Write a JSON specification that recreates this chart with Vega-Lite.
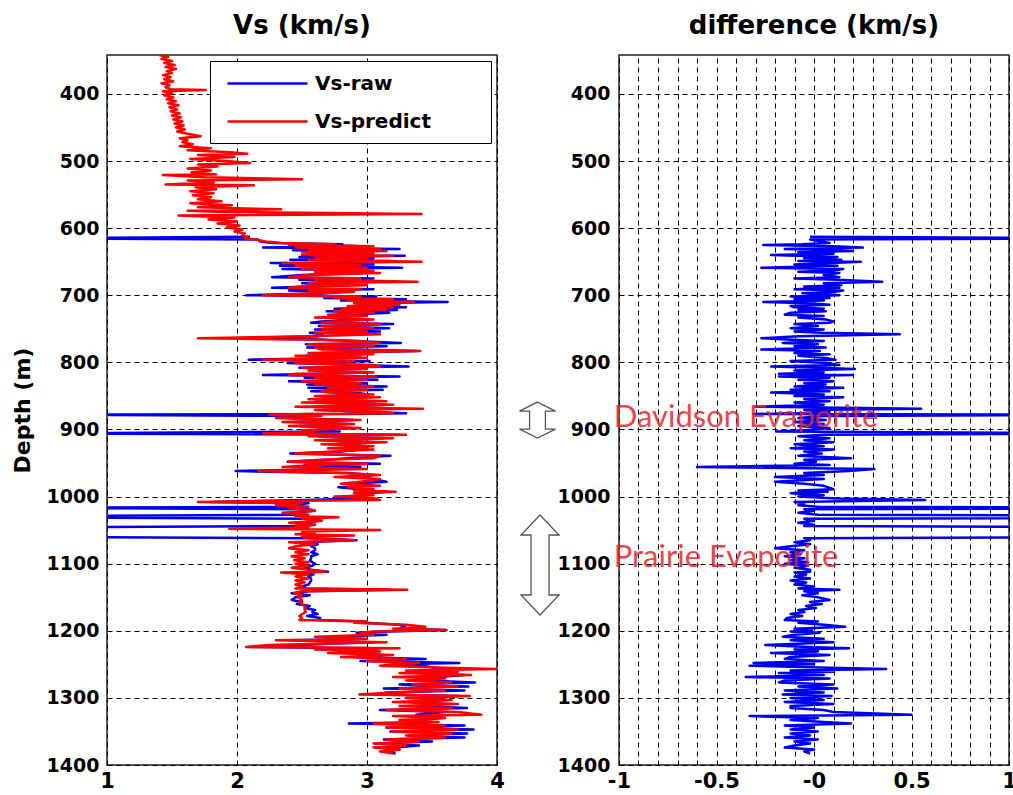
{
  "$schema": "https://vega.github.io/schema/vega-lite/v6.json",
  "background": "white",
  "padding": {"left": 10, "top": 12, "right": 0, "bottom": 0},
  "bounds": "flush",
  "spacing": 122,
  "resolve": {"legend": {"color": "independent"}, "scale": {"color": "independent"}},
  "config": {
    "view": {"stroke": "#222222", "strokeWidth": 1.5},
    "font": "DejaVu Sans",
    "title": {"font": "DejaVu Sans", "fontSize": 26, "fontWeight": "bold", "color": "black", "offset": 16},
    "axis": {
      "gridColor": "black", "gridDash": [5, 4], "gridOpacity": 1, "gridWidth": 1,
      "labelFont": "DejaVu Sans", "labelFontWeight": "bold", "labelColor": "black",
      "ticks": false, "tickSize": 0, "domain": false, "labelFlush": false, "labelOverlap": false,
      "titleFont": "DejaVu Sans", "titleFontWeight": "bold", "titleColor": "black"
    }
  },
  "datasets": {
    "well": [
      {"z":342,"p":1.40},{"z":345,"p":1.47},{"z":348,"p":1.42},{"z":351,"p":1.50},{"z":354,"p":1.44},{"z":357,"p":1.52},{"z":360,"p":1.45},{"z":363,"p":1.53},{"z":366,"p":1.46},{"z":369,"p":1.50},
      {"z":372,"p":1.43},{"z":375,"p":1.49},{"z":378,"p":1.44},{"z":381,"p":1.51},{"z":384,"p":1.42},{"z":387,"p":1.48},{"z":390,"p":1.45},{"z":393,"p":1.49},{"z":394,"p":1.76},{"z":396,"p":1.43},
      {"z":399,"p":1.50},{"z":402,"p":1.44},{"z":405,"p":1.51},{"z":408,"p":1.46},{"z":411,"p":1.53},{"z":414,"p":1.47},{"z":417,"p":1.55},{"z":420,"p":1.48},{"z":423,"p":1.54},{"z":426,"p":1.49},
      {"z":429,"p":1.56},{"z":432,"p":1.50},{"z":435,"p":1.57},{"z":438,"p":1.51},{"z":441,"p":1.58},{"z":444,"p":1.52},{"z":447,"p":1.59},{"z":450,"p":1.53},{"z":453,"p":1.60},{"z":456,"p":1.54},
      {"z":459,"p":1.61},{"z":463,"p":1.72},{"z":466,"p":1.56},{"z":469,"p":1.62},{"z":472,"p":1.58},{"z":475,"p":1.66},{"z":478,"p":1.56},{"z":481,"p":1.80},{"z":484,"p":1.62},{"z":487,"p":1.95},
      {"z":489,"p":2.08},{"z":491,"p":1.70},{"z":494,"p":1.98},{"z":497,"p":1.64},{"z":500,"p":1.92},{"z":503,"p":2.10},{"z":505,"p":1.70},{"z":508,"p":1.85},{"z":511,"p":1.62},{"z":514,"p":1.80},
      {"z":517,"p":1.65},{"z":520,"p":1.84},{"z":521,"p":1.43},{"z":524,"p":1.75},{"z":527,"p":2.50},{"z":529,"p":1.62},{"z":532,"p":1.82},{"z":535,"p":1.45},{"z":536,"p":2.13},{"z":539,"p":1.68},
      {"z":542,"p":1.84},{"z":545,"p":1.64},{"z":548,"p":1.82},{"z":551,"p":1.66},{"z":554,"p":1.80},{"z":557,"p":1.70},{"z":560,"p":1.88},{"z":563,"p":1.64},{"z":566,"p":1.96},{"z":569,"p":1.70},
      {"z":572,"p":2.34},{"z":574,"p":1.62},{"z":576,"p":1.90},{"z":579,"p":3.42},{"z":581,"p":1.55},{"z":584,"p":1.98},{"z":587,"p":1.78},{"z":590,"p":2.00},{"z":593,"p":1.85},{"z":596,"p":2.02},
      {"z":599,"p":1.92},{"z":602,"p":2.04},{"z":605,"p":1.98},{"z":608,"p":2.06},{"z":611,"p":2.04},
      {"z":613,"p":2.08,"r":2.10,"f":-0.02},{"z":615,"p":2.06,"r":0.40,"f":1.66},{"z":617,"p":2.14,"r":2.16,"f":-0.02},{"z":620,"p":2.22,"r":2.18,"f":0.04},{"z":622,"p":2.35,"r":2.27,"f":0.08},
      {"z":624,"p":2.75,"r":2.81,"f":-0.06},{"z":625,"p":2.40,"r":2.66,"f":-0.26},{"z":627,"p":3.05,"r":2.95,"f":0.10},{"z":629,"p":2.45,"r":2.20,"f":0.25},{"z":631,"p":3.10,"r":3.25,"f":-0.15},
      {"z":633,"p":2.55,"r":2.43,"f":0.12},{"z":634,"p":3.15,"r":2.95,"f":0.20},{"z":636,"p":2.50,"r":2.58,"f":-0.08},{"z":638,"p":3.05,"r":2.95,"f":0.10},{"z":640,"p":2.50,"r":2.72,"f":-0.22},
      {"z":641,"p":3.20,"r":3.29,"f":-0.09},{"z":643,"p":2.60,"r":2.48,"f":0.12},{"z":645,"p":3.00,"r":3.05,"f":-0.05},{"z":647,"p":2.55,"r":2.41,"f":0.14},{"z":649,"p":3.10,"r":3.18,"f":-0.08},
      {"z":650,"p":3.42,"r":3.18,"f":0.24},{"z":652,"p":2.35,"r":2.26,"f":0.09},{"z":654,"p":2.95,"r":3.05,"f":-0.10},{"z":656,"p":2.45,"r":2.33,"f":0.12},{"z":659,"p":3.00,"r":3.27,"f":-0.27},
      {"z":661,"p":2.50,"r":2.35,"f":0.15},{"z":663,"p":3.05,"r":2.95,"f":0.10},{"z":665,"p":2.60,"r":2.68,"f":-0.08},{"z":667,"p":3.10,"r":2.97,"f":0.13},{"z":670,"p":2.55,"r":2.50,"f":0.05},
      {"z":673,"p":2.40,"r":2.27,"f":0.13},{"z":675,"p":2.95,"r":3.05,"f":-0.10},{"z":677,"p":2.60,"r":2.48,"f":0.12},{"z":680,"p":3.39,"r":3.04,"f":0.35},{"z":682,"p":2.55,"r":2.50,"f":0.05},
      {"z":685,"p":3.00,"r":2.86,"f":0.14},{"z":687,"p":2.50,"r":2.55,"f":-0.05},{"z":689,"p":2.40,"r":2.27,"f":0.13},{"z":691,"p":2.95,"r":3.05,"f":-0.10},{"z":693,"p":2.55,"r":2.40,"f":0.15},
      {"z":695,"p":2.90,"r":2.80,"f":0.10},{"z":697,"p":2.60,"r":2.66,"f":-0.06},{"z":700,"p":2.20,"r":2.07,"f":0.13},{"z":702,"p":2.95,"r":3.07,"f":-0.12},{"z":704,"p":2.75,"r":2.67,"f":0.08},
      {"z":706,"p":3.20,"r":3.30,"f":-0.10},{"z":708,"p":2.85,"r":2.80,"f":0.05},{"z":710,"p":3.36,"r":3.62,"f":-0.26},{"z":712,"p":2.90,"r":2.92,"f":-0.02},{"z":714,"p":3.25,"r":3.17,"f":0.08},
      {"z":716,"p":2.85,"r":2.97,"f":-0.12},{"z":718,"p":3.20,"r":3.30,"f":-0.10},{"z":720,"p":2.80,"r":2.75,"f":0.05},{"z":722,"p":3.15,"r":3.23,"f":-0.08},{"z":724,"p":2.75,"r":2.69,"f":0.06},
      {"z":726,"p":3.05,"r":3.17,"f":-0.12},{"z":729,"p":2.70,"r":2.85,"f":-0.15},{"z":731,"p":3.00,"r":2.95,"f":0.05},{"z":733,"p":2.60,"r":2.68,"f":-0.08},{"z":736,"p":3.05,"r":2.99,"f":0.06},
      {"z":739,"p":2.75,"r":2.65,"f":0.10},{"z":741,"p":2.65,"r":2.57,"f":0.08},{"z":743,"p":3.10,"r":3.20,"f":-0.10},{"z":746,"p":2.65,"r":2.63,"f":0.02},{"z":749,"p":3.05,"r":3.17,"f":-0.12},
      {"z":751,"p":2.65,"r":2.60,"f":0.05},{"z":754,"p":3.00,"r":3.10,"f":-0.10},{"z":756,"p":2.60,"r":2.56,"f":0.04},{"z":758,"p":3.10,"r":2.66,"f":0.44},{"z":761,"p":2.55,"r":2.63,"f":-0.08},
      {"z":764,"p":1.70,"r":1.97,"f":-0.27},{"z":766,"p":2.50,"r":2.64,"f":-0.14},{"z":768,"p":2.95,"r":2.90,"f":0.05},{"z":771,"p":3.10,"r":3.26,"f":-0.16},{"z":773,"p":2.55,"r":2.53,"f":0.02},
      {"z":776,"p":3.05,"r":3.15,"f":-0.10},{"z":778,"p":2.60,"r":2.54,"f":0.06},{"z":781,"p":2.65,"r":2.92,"f":-0.27},{"z":783,"p":3.41,"r":3.38,"f":0.03},{"z":786,"p":2.55,"r":2.65,"f":-0.10},
      {"z":788,"p":3.05,"r":2.97,"f":0.08},{"z":790,"p":2.45,"r":2.53,"f":-0.08},{"z":793,"p":3.00,"r":2.95,"f":0.05},{"z":796,"p":2.20,"r":2.09,"f":0.11},{"z":798,"p":2.90,"r":3.02,"f":-0.12},
      {"z":801,"p":2.45,"r":2.39,"f":0.06},{"z":804,"p":3.05,"r":2.92,"f":0.13},{"z":806,"p":3.10,"r":3.32,"f":-0.22},{"z":808,"p":2.50,"r":2.48,"f":0.02},{"z":810,"p":3.00,"r":2.79,"f":0.21},
      {"z":812,"p":2.55,"r":2.65,"f":-0.10},{"z":815,"p":3.05,"r":3.00,"f":0.05},{"z":817,"p":2.45,"r":2.63,"f":-0.18},{"z":819,"p":2.40,"r":2.20,"f":0.20},{"z":821,"p":3.07,"r":3.25,"f":-0.18},
      {"z":823,"p":2.60,"r":2.52,"f":0.08},{"z":826,"p":3.00,"r":3.08,"f":-0.08},{"z":828,"p":2.50,"r":2.40,"f":0.10},{"z":831,"p":2.95,"r":3.00,"f":-0.05},{"z":833,"p":2.60,"r":2.54,"f":0.06},
      {"z":836,"p":3.05,"r":3.15,"f":-0.10},{"z":838,"p":2.70,"r":2.55,"f":0.15},{"z":841,"p":3.00,"r":3.12,"f":-0.12},{"z":843,"p":2.65,"r":2.57,"f":0.08},{"z":845,"p":2.70,"r":2.92,"f":-0.22},
      {"z":848,"p":3.05,"r":3.00,"f":0.05},{"z":850,"p":2.60,"r":2.70,"f":-0.10},{"z":852,"p":3.10,"r":2.95,"f":0.15},{"z":855,"p":2.55,"r":2.60,"f":-0.05},{"z":858,"p":3.15,"r":3.07,"f":0.08},
      {"z":860,"p":2.50,"r":2.60,"f":-0.10},{"z":863,"p":3.20,"r":3.15,"f":0.05},{"z":866,"p":2.45,"r":2.75,"f":-0.30},{"z":869,"p":3.43,"r":2.88,"f":0.55},{"z":871,"p":2.60,"r":2.65,"f":-0.05},
      {"z":874,"p":3.10,"r":3.02,"f":0.08},{"z":876,"p":3.20,"r":3.30,"f":-0.10},{"z":877,"p":2.55,"r":2.86,"f":-0.31},{"z":878,"p":2.25,"r":0.40,"f":1.85},{"z":880,"p":2.65,"r":2.60,"f":0.05},
      {"z":883,"p":2.30,"r":2.38,"f":-0.08},{"z":886,"p":2.95,"r":2.89,"f":0.06},{"z":889,"p":2.35,"r":2.45,"f":-0.10},{"z":892,"p":2.90,"r":2.85,"f":0.05},{"z":895,"p":2.40,"r":2.48,"f":-0.08},
      {"z":898,"p":2.95,"r":2.87,"f":0.08},{"z":901,"p":2.50,"r":2.55,"f":-0.05},{"z":903,"p":2.60,"r":2.79,"f":-0.19},{"z":906,"p":2.20,"r":0.40,"f":1.80},{"z":908,"p":3.30,"r":3.25,"f":0.05},
      {"z":910,"p":2.55,"r":2.63,"f":-0.08},{"z":913,"p":3.20,"r":3.12,"f":0.08},{"z":916,"p":2.60,"r":2.65,"f":-0.05},{"z":919,"p":3.15,"r":3.05,"f":0.10},{"z":922,"p":2.65,"r":2.75,"f":-0.10},
      {"z":925,"p":3.05,"r":3.00,"f":0.05},{"z":928,"p":2.70,"r":2.82,"f":-0.12},{"z":930,"p":3.05,"r":2.95,"f":0.10},{"z":933,"p":2.75,"r":2.80,"f":-0.05},{"z":936,"p":2.45,"r":2.41,"f":0.04},
      {"z":939,"p":3.10,"r":3.18,"f":-0.08},{"z":943,"p":3.05,"r":2.86,"f":0.19},{"z":945,"p":2.65,"r":2.70,"f":-0.05},{"z":948,"p":2.40,"r":2.39,"f":0.01},{"z":951,"p":3.00,"r":3.10,"f":-0.10},
      {"z":953,"p":2.60,"r":2.52,"f":0.08},{"z":956,"p":2.35,"r":2.95,"f":-0.60},{"z":959,"p":3.00,"r":2.69,"f":0.31},{"z":962,"p":2.17,"r":1.99,"f":0.18},{"z":965,"p":2.80,"r":2.85,"f":-0.05},
      {"z":968,"p":3.10,"r":3.05,"f":0.05},{"z":971,"p":2.75,"r":2.95,"f":-0.20},{"z":974,"p":3.10,"r":3.05,"f":0.05},{"z":978,"p":2.95,"r":3.15,"f":-0.20},{"z":981,"p":2.80,"r":2.85,"f":-0.05},
      {"z":984,"p":3.10,"r":3.05,"f":0.05},{"z":986,"p":2.85,"r":2.78,"f":0.07},{"z":989,"p":3.05,"r":2.95,"f":0.10},{"z":991,"p":2.90,"r":2.98,"f":-0.08},{"z":993,"p":3.22,"r":3.15,"f":0.07},
      {"z":995,"p":2.90,"r":3.02,"f":-0.12},{"z":998,"p":3.05,"r":3.00,"f":0.05},{"z":1000,"p":2.75,"r":2.83,"f":-0.08},{"z":1003,"p":3.07,"r":2.95,"f":0.12},{"z":1005,"p":3.10,"r":2.53,"f":0.57},
      {"z":1008,"p":1.70,"r":1.80,"f":-0.10},{"z":1010,"p":2.50,"r":2.55,"f":-0.05},{"z":1013,"p":2.30,"r":2.38,"f":-0.08},{"z":1015,"p":2.55,"r":2.53,"f":0.02},{"z":1017,"p":2.40,"r":0.40,"f":2.00},
      {"z":1019,"p":2.50,"r":2.55,"f":-0.05},{"z":1021,"p":2.60,"r":2.60,"f":0.00},{"z":1024,"p":2.35,"r":2.43,"f":-0.08},{"z":1027,"p":2.55,"r":2.53,"f":0.02},{"z":1029,"p":2.45,"r":0.40,"f":2.05},
      {"z":1031,"p":2.78,"r":0.40,"f":2.38},{"z":1033,"p":2.50,"r":2.55,"f":-0.05},{"z":1036,"p":2.65,"r":2.65,"f":0.00},{"z":1039,"p":2.40,"r":2.48,"f":-0.08},{"z":1042,"p":2.60,"r":2.60,"f":0.00},
      {"z":1044,"p":2.45,"r":2.50,"f":-0.05},{"z":1046,"p":2.55,"r":0.40,"f":2.15},{"z":1048,"p":1.94,"r":0.40,"f":1.54},{"z":1050,"p":3.10,"r":0.40,"f":2.70},{"z":1052,"p":2.50,"r":0.40,"f":2.10},
      {"z":1054,"p":2.60,"r":0.40,"f":2.20},{"z":1056,"p":2.45,"r":0.40,"f":2.05},{"z":1058,"p":2.90,"r":0.40,"f":2.50},{"z":1060,"p":2.50,"r":0.40,"f":2.10},{"z":1062,"p":2.55,"r":2.60,"f":-0.05},
      {"z":1065,"p":2.90,"r":2.92,"f":-0.02},{"z":1068,"p":2.40,"r":2.50,"f":-0.10},{"z":1071,"p":2.60,"r":2.62,"f":-0.02},{"z":1074,"p":2.45,"r":2.57,"f":-0.12},{"z":1077,"p":2.40,"r":2.60,"f":-0.20},
      {"z":1080,"p":2.55,"r":2.60,"f":-0.05},{"z":1083,"p":2.45,"r":2.57,"f":-0.12},{"z":1086,"p":2.55,"r":2.62,"f":-0.07},{"z":1089,"p":2.42,"r":2.57,"f":-0.15},{"z":1092,"p":2.52,"r":2.57,"f":-0.05},
      {"z":1095,"p":2.44,"r":2.56,"f":-0.12},{"z":1098,"p":2.55,"r":2.58,"f":-0.03},{"z":1100,"p":2.45,"r":2.60,"f":-0.15},{"z":1103,"p":2.55,"r":2.58,"f":-0.03},{"z":1106,"p":2.42,"r":2.52,"f":-0.10},
      {"z":1109,"p":2.55,"r":2.57,"f":-0.02},{"z":1112,"p":2.68,"r":2.70,"f":-0.02},{"z":1113,"p":2.34,"r":2.44,"f":-0.10},{"z":1116,"p":2.55,"r":2.59,"f":-0.04},{"z":1119,"p":2.45,"r":2.55,"f":-0.10},
      {"z":1122,"p":2.55,"r":2.57,"f":-0.02},{"z":1125,"p":2.45,"r":2.57,"f":-0.12},{"z":1128,"p":2.52,"r":2.56,"f":-0.04},{"z":1131,"p":2.45,"r":2.55,"f":-0.10},{"z":1134,"p":2.50,"r":2.50,"f":0.00},
      {"z":1137,"p":2.45,"r":2.53,"f":-0.08},{"z":1139,"p":3.31,"r":3.18,"f":0.13},{"z":1141,"p":2.50,"r":2.55,"f":-0.05},{"z":1144,"p":2.44,"r":2.42,"f":0.02},{"z":1147,"p":2.50,"r":2.56,"f":-0.06},
      {"z":1150,"p":2.47,"r":2.45,"f":0.02},{"z":1154,"p":2.50,"r":2.42,"f":0.08},{"z":1157,"p":2.48,"r":2.50,"f":-0.02},{"z":1160,"p":2.50,"r":2.46,"f":0.04},{"z":1163,"p":2.52,"r":2.56,"f":-0.04},
      {"z":1166,"p":2.53,"r":2.52,"f":0.01},{"z":1169,"p":2.52,"r":2.60,"f":-0.08},{"z":1172,"p":2.53,"r":2.58,"f":-0.05},{"z":1175,"p":2.50,"r":2.62,"f":-0.12},{"z":1178,"p":2.48,"r":2.54,"f":-0.06},
      {"z":1181,"p":2.50,"r":2.64,"f":-0.14},{"z":1184,"p":2.48,"r":2.63,"f":-0.15},{"z":1186,"p":3.00,"r":2.98,"f":0.02},{"z":1188,"p":2.90,"r":2.98,"f":-0.08},{"z":1191,"p":3.30,"r":3.25,"f":0.05},
      {"z":1194,"p":3.45,"r":3.29,"f":0.16},{"z":1197,"p":3.20,"r":3.30,"f":-0.10},{"z":1199,"p":3.60,"r":3.61,"f":-0.01},{"z":1201,"p":3.05,"r":3.17,"f":-0.12},{"z":1203,"p":2.95,"r":2.92,"f":0.03},
      {"z":1206,"p":3.05,"r":3.15,"f":-0.10},{"z":1209,"p":2.60,"r":2.76,"f":-0.16},{"z":1212,"p":3.00,"r":2.95,"f":0.05},{"z":1214,"p":2.30,"r":2.42,"f":-0.12},{"z":1217,"p":3.15,"r":3.05,"f":0.10},
      {"z":1219,"p":2.70,"r":2.75,"f":-0.05},{"z":1221,"p":2.25,"r":2.50,"f":-0.25},{"z":1224,"p":2.07,"r":2.10,"f":-0.03},{"z":1226,"p":3.25,"r":3.07,"f":0.18},{"z":1228,"p":2.60,"r":2.70,"f":-0.10},
      {"z":1231,"p":3.10,"r":3.08,"f":0.02},{"z":1233,"p":2.70,"r":2.92,"f":-0.22},{"z":1236,"p":3.20,"r":3.12,"f":0.08},{"z":1239,"p":2.80,"r":2.92,"f":-0.12},{"z":1242,"p":3.30,"r":3.45,"f":-0.15},
      {"z":1245,"p":3.00,"r":2.95,"f":0.05},{"z":1248,"p":3.40,"r":3.71,"f":-0.31},{"z":1250,"p":3.20,"r":3.20,"f":0.00},{"z":1252,"p":3.10,"r":3.43,"f":-0.33},{"z":1255,"p":3.60,"r":3.52,"f":0.08},
      {"z":1257,"p":4.00,"r":3.63,"f":0.37},{"z":1259,"p":3.30,"r":3.42,"f":-0.12},{"z":1261,"p":3.70,"r":3.60,"f":0.10},{"z":1263,"p":3.25,"r":3.43,"f":-0.18},{"z":1266,"p":3.80,"r":3.75,"f":0.05},
      {"z":1269,"p":3.20,"r":3.55,"f":-0.35},{"z":1271,"p":3.60,"r":3.52,"f":0.08},{"z":1274,"p":3.30,"r":3.45,"f":-0.15},{"z":1277,"p":3.65,"r":3.83,"f":-0.18},{"z":1280,"p":3.35,"r":3.25,"f":0.10},
      {"z":1283,"p":3.70,"r":3.78,"f":-0.08},{"z":1286,"p":3.25,"r":3.13,"f":0.12},{"z":1289,"p":3.60,"r":3.75,"f":-0.15},{"z":1292,"p":3.20,"r":3.15,"f":0.05},{"z":1295,"p":2.94,"r":3.10,"f":-0.16},
      {"z":1297,"p":3.79,"r":3.70,"f":0.09},{"z":1300,"p":3.30,"r":3.42,"f":-0.12},{"z":1303,"p":3.65,"r":3.60,"f":0.05},{"z":1306,"p":3.20,"r":3.35,"f":-0.15},{"z":1309,"p":3.70,"r":3.60,"f":0.10},
      {"z":1312,"p":3.25,"r":3.37,"f":-0.12},{"z":1315,"p":3.65,"r":3.77,"f":-0.12},{"z":1318,"p":3.15,"r":3.10,"f":0.05},{"z":1321,"p":3.70,"r":3.60,"f":0.10},{"z":1325,"p":3.88,"r":3.38,"f":0.50},
      {"z":1327,"p":3.20,"r":3.53,"f":-0.33},{"z":1330,"p":3.60,"r":3.58,"f":0.02},{"z":1333,"p":3.25,"r":3.37,"f":-0.12},{"z":1336,"p":3.55,"r":3.50,"f":0.05},{"z":1338,"p":3.05,"r":2.86,"f":0.19},
      {"z":1341,"p":3.60,"r":3.75,"f":-0.15},{"z":1344,"p":3.15,"r":3.15,"f":0.00},{"z":1347,"p":3.70,"r":3.82,"f":-0.12},{"z":1350,"p":3.20,"r":3.18,"f":0.02},{"z":1353,"p":3.65,"r":3.77,"f":-0.12},
      {"z":1356,"p":3.30,"r":3.32,"f":-0.02},{"z":1359,"p":3.60,"r":3.75,"f":-0.15},{"z":1362,"p":3.15,"r":3.13,"f":0.02},{"z":1365,"p":3.40,"r":3.50,"f":-0.10},{"z":1368,"p":3.05,"r":3.07,"f":-0.02},
      {"z":1371,"p":3.30,"r":3.40,"f":-0.10},{"z":1374,"p":3.05,"r":3.20,"f":-0.15},{"z":1377,"p":3.25,"r":3.25,"f":0.00},{"z":1380,"p":3.10,"r":3.15,"f":-0.05},{"z":1383,"p":3.20,"r":3.22,"f":-0.02}
    ]
  },
  "hconcat": [
    {
      "width": 390,
      "height": 710,
      "title": {"text": "Vs (km/s)"},
      "data": {"name": "well"},
      "encoding": {
        "y": {"field": "z", "type": "quantitative", "scale": {"domain": [342, 1400], "nice": false, "zero": false, "reverse": true},
              "axis": {"title": "Depth (m)", "titleFontSize": 22, "titlePadding": 12, "values": [400, 500, 600, 700, 800, 900, 1000, 1100, 1200, 1300, 1400], "labelFontSize": 19, "labelPadding": 8, "grid": true, "format": "d"}},
        "order": {"field": "z", "type": "quantitative"}
      },
      "layer": [
        {
          "mark": {"type": "line", "clip": true, "strokeWidth": 2.5, "strokeJoin": "round"},
          "encoding": {
            "x": {"field": "r", "type": "quantitative", "title": null, "scale": {"domain": [1, 4], "nice": false, "zero": false},
                  "axis": {"title": null, "values": [1, 2, 3, 4], "format": "d", "labelFontSize": 21, "labelPadding": 5, "grid": true}},
            "color": {"datum": "Vs-raw", "type": "nominal",
                      "scale": {"domain": ["Vs-raw", "Vs-predict"], "range": ["#0000ee", "#ff0000"]},
                      "legend": {"title": null, "orient": "top-right", "offset": 6, "padding": 11,
                                 "strokeColor": "black", "fillColor": "white",
                                 "symbolType": "M-4,0H4", "symbolSize": 400, "symbolStrokeWidth": 2.5,
                                 "symbolOffset": 35, "labelOffset": 36, "labelLimit": 0,
                                 "labelFont": "DejaVu Sans", "labelFontSize": 20, "labelFontWeight": "bold", "labelColor": "black",
                                 "rowPadding": 16, "labelExpr": "datum.label + '\u00a0\u00a0\u00a0\u00a0\u00a0\u00a0\u00a0\u200b'"}}
          }
        },
        {
          "mark": {"type": "line", "clip": true, "strokeWidth": 2.5, "strokeJoin": "round"},
          "encoding": {
            "x": {"field": "p", "type": "quantitative", "title": null, "scale": {"domain": [1, 4], "nice": false, "zero": false}},
            "color": {"datum": "Vs-predict", "type": "nominal"}
          }
        }
      ]
    },
    {
      "width": 390,
      "height": 710,
      "title": {"text": "difference (km/s)"},
      "encoding": {
        "x": {"field": "f", "type": "quantitative", "scale": {"domain": [-1, 1], "nice": false, "zero": false},
              "axis": {"title": null, "grid": true, "labelFontSize": 21, "labelPadding": 5,
                       "values": [-1, -0.9, -0.8, -0.7, -0.6, -0.5, -0.4, -0.3, -0.2, -0.1, 0, 0.1, 0.2, 0.3, 0.4, 0.5, 0.6, 0.7, 0.8, 0.9, 1],
                       "labelExpr": "datum.value < -0.99 ? '-1' : abs(datum.value + 0.5) < 0.01 ? '-0.5' : abs(datum.value) < 0.01 ? '-0' : abs(datum.value - 0.5) < 0.01 ? '0.5' : datum.value > 0.99 ? '1' : ''"}},
        "y": {"field": "z", "type": "quantitative", "scale": {"domain": [342, 1400], "nice": false, "zero": false, "reverse": true},
              "axis": {"title": null, "values": [400, 500, 600, 700, 800, 900, 1000, 1100, 1200, 1300, 1400], "labelFontSize": 19, "labelPadding": 9, "grid": true, "format": "d"}}
      },
      "layer": [
        {
          "data": {"name": "well"},
          "mark": {"type": "line", "clip": true, "strokeWidth": 2.5, "strokeJoin": "round", "color": "#0000ee"},
          "encoding": {
            "order": {"field": "z", "type": "quantitative"}
          }
        },
        {
          "data": {"values": [{"f": -1.418, "z": 886}]},
          "mark": {"type": "point", "filled": true, "fill": "white", "stroke": "#555555", "strokeWidth": 1.3, "opacity": 1,
                   "shape": "M0,-1L1,-0.5L0.44,-0.5L0.44,0.5L1,0.5L0,1L-1,0.5L-0.44,0.5L-0.44,-0.5L-1,-0.5Z", "size": 1296}
        },
        {
          "data": {"values": [{"f": -1.405, "z": 1102}]},
          "mark": {"type": "point", "filled": true, "fill": "white", "stroke": "#555555", "strokeWidth": 1.3, "opacity": 1,
                   "shape": "M0,-1L0.38,-0.6L0.18,-0.6L0.18,0.6L0.38,0.6L0,1L-0.38,0.6L-0.18,0.6L-0.18,-0.6L-0.38,-0.6Z", "size": 10000}
        },
        {
          "data": {"values": [{"f": -1.027, "z": 896, "t": "Davidson Evaporite"}, {"f": -1.027, "z": 1105, "t": "Prairie Evaporite"}]},
          "mark": {"type": "text", "align": "left", "baseline": "alphabetic", "font": "Lato", "fontSize": 31, "color": "#e0282d", "opacity": 0.85},
          "encoding": {
            "text": {"field": "t", "type": "nominal"}
          }
        }
      ]
    }
  ]
}
